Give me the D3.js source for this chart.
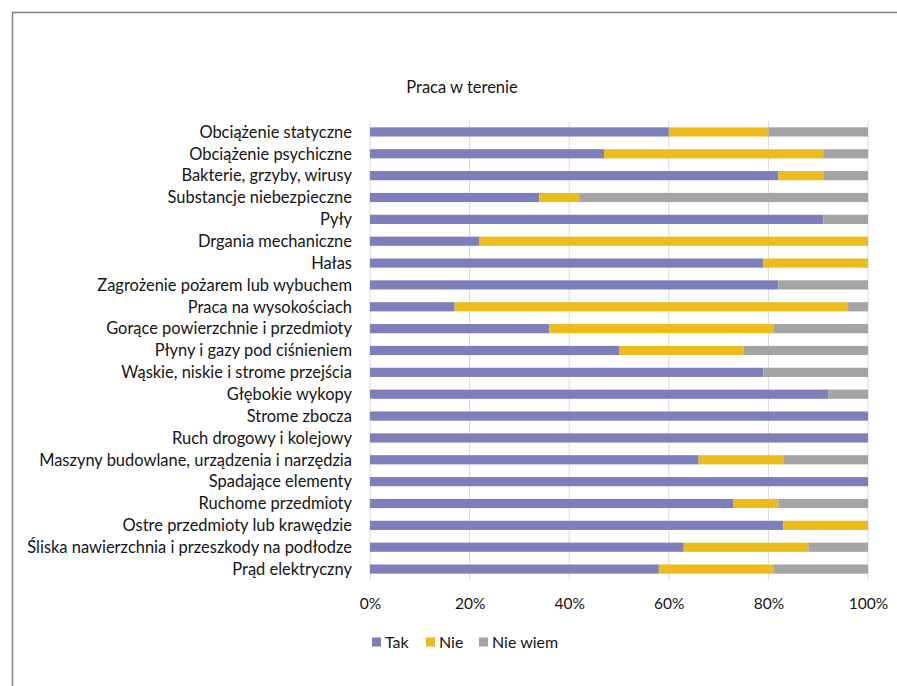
<!DOCTYPE html>
<html>
<head>
<meta charset="utf-8">
<script src="https://cdn.jsdelivr.net/npm/d3@7"></script>
<style>
  body { margin: 0; background: #fff; }
  svg { display: block; font-family: Lato, "Noto Sans", sans-serif; }
</style>
</head>
<body>
<svg id="chart" width="897" height="686"></svg>
<script>
// categories, top to bottom
const categories = [
  "Obciążenie statyczne",
  "Obciążenie psychiczne",
  "Bakterie, grzyby, wirusy",
  "Substancje niebezpieczne",
  "Pyły",
  "Drgania mechaniczne",
  "Hałas",
  "Zagrożenie pożarem lub wybuchem",
  "Praca na wysokościach",
  "Gorące powierzchnie i przedmioty",
  "Płyny i gazy pod ciśnieniem",
  "Wąskie, niskie i strome przejścia",
  "Głębokie wykopy",
  "Strome zbocza",
  "Ruch drogowy i kolejowy",
  "Maszyny budowlane, urządzenia i narzędzia",
  "Spadające elementy",
  "Ruchome przedmioty",
  "Ostre przedmioty lub krawędzie",
  "Śliska nawierzchnia i przeszkody na podłodze",
  "Prąd elektryczny"
];
const tak     = [60, 47, 82, 34, 91, 22, 79, 82, 17, 36, 50, 79, 92, 100, 100, 66, 100, 73, 83, 63, 58];
const nie     = [20, 44,  9,  8,  0, 78, 21,  0, 79, 45, 25,  0,  0,   0,   0, 17,   0,  9, 17, 25, 23];
const nieWiem = [20,  9,  9, 58,  9,  0,  0, 18,  4, 19, 25, 21,  8,   0,   0, 17,   0, 18,  0, 12, 19];
const seriesNames = ["Tak", "Nie", "Nie wiem"];
const colors = ["#7e7fba", "#ecbc1c", "#a4a4a4"];
const xTicks = [0, 20, 40, 60, 80, 100];
const title = "Praca w terenie";

const svg = d3.select("#chart");
const margin = {left: 370, right: 29, top: 121, bottom: 106};
const W = 897, H = 686;

// frame
svg.append("path")
  .attr("d", "M12.5,686 V12.5 H897")
  .attr("fill", "none")
  .attr("stroke", "#8f7f72")
  .attr("stroke-width", 1.5);

const x = d3.scaleLinear().domain([0, 100]).range([margin.left, W - margin.right]);
const y = d3.scaleBand().domain(categories).range([margin.top, H - margin.bottom]).paddingInner(0.58).paddingOuter(0.29);

// gridlines
svg.append("g")
  .selectAll("line")
  .data(xTicks)
  .join("line")
  .attr("x1", d => x(d)).attr("x2", d => x(d))
  .attr("y1", margin.top).attr("y2", H - margin.bottom)
  .attr("stroke", "#d9d9d9")
  .attr("stroke-width", 1);

const rows = categories.map((c, i) => ({cat: c, Tak: tak[i], Nie: nie[i], "Nie wiem": nieWiem[i]}));
const stacked = d3.stack().keys(seriesNames)(rows);

svg.append("g")
  .selectAll("g")
  .data(stacked)
  .join("g")
  .attr("fill", (d, i) => colors[i])
  .selectAll("rect")
  .data(d => d)
  .join("rect")
  .attr("x", d => x(d[0]))
  .attr("y", d => y(d.data.cat))
  .attr("width", d => x(d[1]) - x(d[0]))
  .attr("height", y.bandwidth());

// category labels
const labels = svg.append("g")
  .selectAll("text")
  .data(categories)
  .join("text")
  .attr("x", 352)
  .attr("y", d => y(d) + y.bandwidth() / 2)
  .attr("dy", "0.35em")
  .attr("text-anchor", "end")
  .attr("fill", "#151515")
  .style("font-size", "15px")
  .text(d => d);

// fit longest label to its width in the picture
let maxW = 0;
labels.each(function() { maxW = Math.max(maxW, this.getComputedTextLength()); });
const fs = 15 * 325 / maxW;
labels.style("font-size", fs + "px");

// x axis labels
svg.append("g")
  .attr("transform", `translate(0,${H - margin.bottom})`)
  .call(d3.axisBottom(x).tickValues(xTicks).tickFormat(d => d + "%").tickSize(0).tickPadding(18))
  .call(g => g.select(".domain").remove())
  .call(g => g.selectAll("text").style("font-size", "15.5px").attr("fill", "#151515").style("font-family", "Lato, sans-serif"));

// title
svg.append("text")
  .attr("x", 462)
  .attr("y", 87)
  .attr("dy", "0.35em")
  .attr("text-anchor", "middle")
  .style("font-size", "16.5px")
  .attr("fill", "#151515")
  .text(title);

// legend
const legendX = [372, 426, 479];
const legend = svg.append("g").selectAll("g")
  .data(seriesNames)
  .join("g")
  .attr("transform", (d, i) => `translate(${legendX[i]},642)`);
legend.append("rect")
  .attr("x", 0).attr("y", -4.5)
  .attr("width", 9).attr("height", 9)
  .attr("fill", (d, i) => colors[i]);
legend.append("text")
  .attr("x", 13)
  .attr("dy", "0.35em")
  .style("font-size", "16px")
  .attr("fill", "#151515")
  .text(d => d);
</script>
</body>
</html>
